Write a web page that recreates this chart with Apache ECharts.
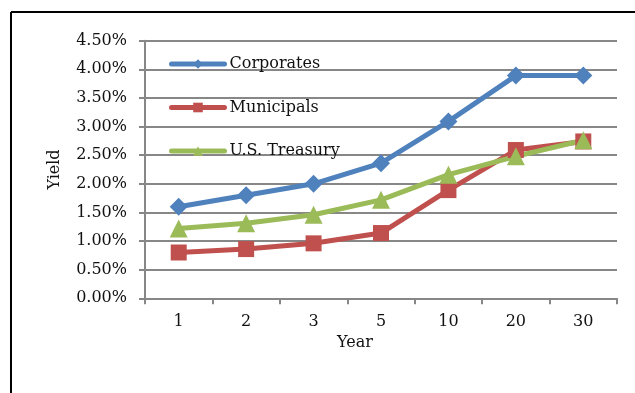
<!DOCTYPE html>
<html>
<head>
<meta charset="utf-8">
<script src="https://cdn.jsdelivr.net/npm/echarts@6/dist/echarts.min.js"></script>
<style>
html,body{margin:0;padding:0;background:#fff;}
#chart{width:635px;height:393px;}
</style>
</head>
<body>
<div id="chart"></div>
<script>
const years = ['1', '2', '3', '5', '10', '20', '30'];
const corporates = [1.60, 1.80, 2.00, 2.36, 3.09, 3.89, 3.89];
const municipals = [0.80, 0.86, 0.96, 1.14, 1.89, 2.59, 2.74];
const treasury = [1.22, 1.31, 1.46, 1.72, 2.16, 2.48, 2.76];
const yTicks = {min: 0, max: 4.5, interval: 0.5};

const FONT = '"DejaVu Serif", "Liberation Serif", serif';
const FS = 16;
const chart = echarts.init(document.getElementById('chart'), null, {renderer: 'canvas'});
const mk = (name, data, color, symbol, size) => ({
  name, type: 'line', data, symbol, symbolSize: size,
  lineStyle: {color, width: 5, cap: 'round', join: 'round'},
  itemStyle: {color},
  emphasis: {disabled: true},
  animation: false
});
chart.setOption({
  animation: false,
  backgroundColor: '#fff',
  grid: {left: 145, top: 40.7, right: 18, bottom: 94.7, containLabel: false},
  legend: {
    orient: 'vertical', left: 169, top: 56, padding: 0,
    itemWidth: 53, itemHeight: 12, itemGap: 27.5,
    lineStyle: {width: 5, cap: 'round'},
    textStyle: {fontFamily: FONT, fontSize: FS, color: '#111'},
    data: ['Corporates', 'Municipals', 'U.S. Treasury']
  },
  xAxis: {
    type: 'category', data: years, boundaryGap: true,
    name: 'Year', nameLocation: 'middle', nameGap: 36,
    nameTextStyle: {fontFamily: FONT, fontSize: FS, color: '#111', padding: [0, 52, 0, 0]},
    axisLine: {lineStyle: {color: '#878787', width: 2}},
    axisTick: {show: true, length: 6, lineStyle: {color: '#878787', width: 2}},
    axisLabel: {fontFamily: FONT, fontSize: FS, color: '#111', margin: 16}
  },
  yAxis: {
    type: 'value', min: yTicks.min, max: yTicks.max, interval: yTicks.interval,
    name: 'Yield', nameLocation: 'middle', nameGap: 82,
    nameTextStyle: {fontFamily: FONT, fontSize: FS, color: '#111'},
    axisLine: {show: true, lineStyle: {color: '#878787', width: 2}},
    axisTick: {show: true, length: 6, lineStyle: {color: '#878787', width: 2}},
    splitLine: {lineStyle: {color: '#878787', width: 2}},
    axisLabel: {fontFamily: FONT, fontSize: FS, color: '#111', margin: 18,
      formatter: v => v.toFixed(2) + '%'}
  },
  graphic: [
    {type: 'line', shape: {x1: 11, y1: 12, x2: 635, y2: 12}, style: {stroke: '#000', lineWidth: 2}},
    {type: 'line', shape: {x1: 11, y1: 12, x2: 11, y2: 393}, style: {stroke: '#000', lineWidth: 2}}
  ],
  series: [
    mk('Corporates', corporates, '#4F81BD', 'diamond', 18),
    mk('Municipals', municipals, '#C0504D', 'rect', 16),
    mk('U.S. Treasury', treasury, '#9BBB59', 'triangle', 18)
  ]
});
</script>
</body>
</html>
